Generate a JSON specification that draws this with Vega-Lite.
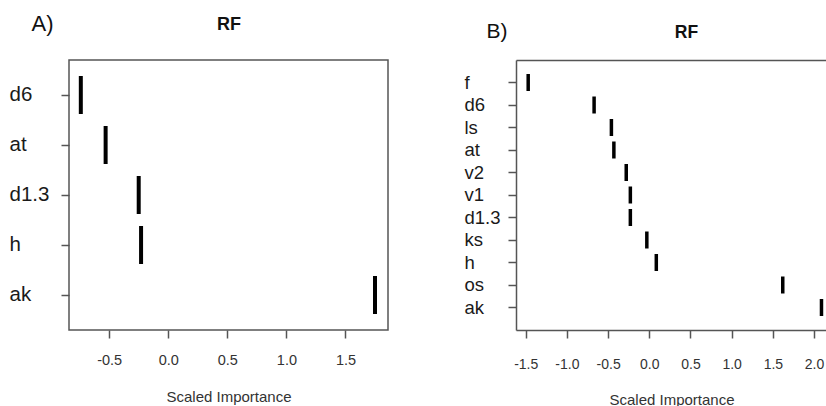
{
  "$schema": "https://vega.github.io/schema/vega-lite/v6.json",
  "background": "white",
  "padding": {"left": 8, "top": 11, "right": 0, "bottom": 0},
  "autosize": {"type": "pad"},
  "bounds": "flush",
  "spacing": 128,
  "config": {
    "font": "Liberation Sans",
    "locale": {"number": {"decimal": ".", "thousands": ",", "grouping": [3], "currency": ["$", ""], "minus": "-"}},
    "axis": {"grid": false, "tickColor": "#555", "tickWidth": 1.5, "domainColor": "#555", "domainWidth": 1.5, "labelColor": "#333", "titleColor": "#333", "titleFontWeight": "normal"}
  },
  "hconcat": [
    {
      "width": 319,
      "height": 270,
      "view": {"stroke": "#555", "strokeWidth": 1.5},
      "data": {"values": [
        {"variable": "d6", "importance": -0.74},
        {"variable": "at", "importance": -0.53},
        {"variable": "d1.3", "importance": -0.25},
        {"variable": "h", "importance": -0.23},
        {"variable": "ak", "importance": 1.75}
      ]},
      "layer": [
        {
          "mark": {"type": "tick", "size": 38, "thickness": 4, "color": "black", "opacity": 1},
          "encoding": {
            "x": {
              "field": "importance", "type": "quantitative",
              "scale": {"domain": [-0.84, 1.86], "nice": false, "zero": false},
              "axis": {"orient": "bottom", "values": [-0.5, 0, 0.5, 1, 1.5], "format": ".1f", "domain": false, "tickSize": 8, "labelFontSize": 14.5, "labelPadding": 15, "title": "Scaled Importance", "titleFontSize": 15, "titlePadding": 23}
            },
            "y": {
              "field": "variable", "type": "nominal", "sort": null,
              "scale": {"paddingInner": 0, "paddingOuter": 0.2},
              "axis": {"domain": false, "tickSize": 8, "labelAlign": "left", "labelPadding": 52, "labelFontSize": 20.5, "labelColor": "#1a1a1a",
                "title": "A)", "titleAngle": 0, "titleAlign": "left", "titleBaseline": "middle", "titleX": -38, "titleY": -37, "titleFontSize": 22, "titleColor": "#111"}
            }
          }
        },
        {
          "mark": {"type": "tick", "opacity": 0},
          "encoding": {
            "x": {
              "field": "importance", "type": "quantitative",
              "axis": {"orient": "top", "labels": false, "ticks": false, "domain": false,
                "title": "RF", "titleFontSize": 18, "titleFontWeight": "bold", "titleColor": "#111", "titleBaseline": "middle", "titleY": -36}
            }
          }
        }
      ]
    },
    {
      "width": 311,
      "height": 270,
      "view": {"stroke": null},
      "data": {"values": [
        {"variable": "f", "importance": -1.47},
        {"variable": "d6", "importance": -0.67},
        {"variable": "ls", "importance": -0.46},
        {"variable": "at", "importance": -0.43},
        {"variable": "v2", "importance": -0.28},
        {"variable": "v1", "importance": -0.23},
        {"variable": "d1.3", "importance": -0.23},
        {"variable": "ks", "importance": -0.03},
        {"variable": "h", "importance": 0.085},
        {"variable": "os", "importance": 1.62},
        {"variable": "ak", "importance": 2.09}
      ]},
      "layer": [
        {
          "mark": {"type": "tick", "size": 17, "thickness": 3.5, "color": "black", "opacity": 1},
          "encoding": {
            "x": {
              "field": "importance", "type": "quantitative",
              "scale": {"domain": [-1.618, 2.157], "nice": false, "zero": false},
              "axis": {"orient": "bottom", "values": [-1.5, -1, -0.5, 0, 0.5, 1, 1.5, 2], "format": ".1f", "domain": true, "tickSize": 8, "labelFontSize": 14, "labelPadding": 19, "title": "Scaled Importance", "titleFontSize": 15, "titlePadding": 21}
            },
            "y": {
              "field": "variable", "type": "nominal", "sort": null,
              "scale": {"paddingInner": 0, "paddingOuter": 0.5},
              "axis": {"domain": true, "tickSize": 8, "labelAlign": "left", "labelPadding": 44, "labelFontSize": 18.5, "labelColor": "#1a1a1a",
                "title": "B)", "titleAngle": 0, "titleAlign": "left", "titleBaseline": "middle", "titleX": -30, "titleY": -29, "titleFontSize": 21, "titleColor": "#111"}
            }
          }
        },
        {
          "mark": {"type": "tick", "opacity": 0},
          "encoding": {
            "x": {
              "field": "importance", "type": "quantitative",
              "axis": {"orient": "top", "labels": false, "ticks": false, "domain": true,
                "title": "RF", "titleFontSize": 17.5, "titleFontWeight": "bold", "titleColor": "#111", "titleBaseline": "middle", "titleY": -28, "titleX": 170}
            }
          }
        }
      ]
    }
  ]
}
